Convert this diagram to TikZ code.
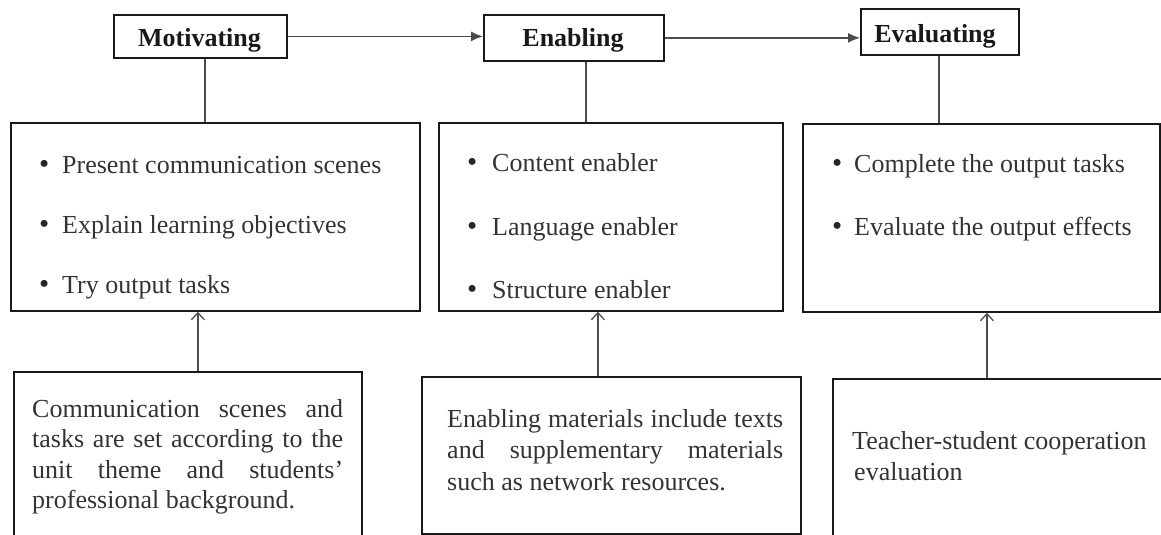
\documentclass[tikz,border=0pt]{standalone}
\usepackage{fontspec}
\setmainfont{Liberation Serif}
\usetikzlibrary{arrows.meta}
\begin{document}
\begin{tikzpicture}[x=1pt,y=-1pt,
  box/.style={draw=black!90, line width=1.8pt, rectangle, inner sep=0pt, anchor=north west},
  title/.style={font=\fontsize{26}{30}\selectfont\bfseries, text=black!90, inner sep=0pt, anchor=base},
  txt/.style={font=\fontsize{26}{30}\selectfont, text=black!80, inner sep=0pt, anchor=base west},
  dot/.style={font=\fontsize{29}{30}\selectfont, text=black!85, inner sep=0pt, anchor=base west},
  conn/.style={draw=black!70, line width=1.3pt},
  flow/.style={conn, -{Latex[length=12pt,width=10pt]}},
  up/.style={conn, -{Straight Barb[length=7pt,width=13pt]}},
]
\useasboundingbox (0,0) rectangle (1161,535);

% title boxes
\node[box, minimum width=173pt, minimum height=43pt] (mot) at (113,14) {};
\node[box, minimum width=180pt, minimum height=46pt] (en) at (483,14) {};
\node[box, minimum width=158pt, minimum height=46pt] (ev) at (860,8) {};
\node[title] (motT) at (199.5,47) {Motivating};
\node[title] (enT) at (573,47) {Enabling};
\node[title] (evT) at (935,42) {Evaluating};

% middle boxes
\node[box, minimum width=409pt, minimum height=188pt] (b1) at (10,122) {};
\node[box, minimum width=344pt, minimum height=188pt] (b2) at (438,122) {};
\node[box, minimum width=357pt, minimum height=188pt] (b3) at (802,123) {};

% bottom boxes
\node[box, minimum width=348pt, minimum height=180pt] (b4) at (13,371) {};
\node[box, minimum width=379pt, minimum height=157pt] (b5) at (421,376) {};
\node[box, minimum width=340pt, minimum height=170pt] (b6) at (832,378) {};

% flow arrows
\draw[flow] (mot.east) -- (mot.east -| en.west);
\draw[flow] (en.east) -- (en.east -| ev.west);

% vertical connectors
\coordinate (c1) at ([xshift=4.5pt]mot.south);
\coordinate (c2) at ([xshift=12pt]en.south);
\coordinate (c3) at ([xshift=-1pt]ev.south);
\draw[conn] (c1) -- (c1 |- b1.north);
\draw[conn] (c2) -- (c2 |- b2.north);
\draw[conn] (c3) -- (c3 |- b3.north);

\coordinate (a4) at ([xshift=10pt]b4.north);
\coordinate (a5) at ([xshift=-13.5pt]b5.north);
\coordinate (a6) at ([xshift=-16pt]b6.north);
\draw[up] (a4) -- (a4 |- b1.south);
\draw[up] (a5) -- (a5 |- b2.south);
\draw[up] (a6) -- (a6 |- b3.south);

% box 1 bullets
\node[dot] (p1) at (39,173) {\textbullet};
\node[txt] (q1) at (62,173) {Present communication scenes};
\node[dot] (p2) at (39,233) {\textbullet};
\node[txt] (q2) at (62,233) {Explain learning objectives};
\node[dot] (p3) at (39,293) {\textbullet};
\node[txt] (q3) at (62,293) {Try output tasks};

% box 2 bullets
\node[dot] (p4) at (467,171) {\textbullet};
\node[txt] (q4) at (492,171) {Content enabler};
\node[dot] (p5) at (467,235) {\textbullet};
\node[txt] (q5) at (492,235) {Language enabler};
\node[dot] (p6) at (467,298) {\textbullet};
\node[txt] (q6) at (492,298) {Structure enabler};

% box 3 bullets
\node[dot] (p7) at (832,172) {\textbullet};
\node[txt] (q7) at (854,172) {Complete the output tasks};
\node[dot] (p8) at (832,235) {\textbullet};
\node[txt] (q8) at (854,235) {Evaluate the output effects};

% box 4 text
\node[txt] (r1) at (32,417) {\makebox[311pt][s]{Communication scenes and}};
\node[txt] (r2) at (32,447.5) {\makebox[311pt][s]{tasks are set according to the}};
\node[txt] (r3) at (32,478) {\makebox[311pt][s]{unit theme and students’}};
\node[txt] (r4) at (32,508) {professional background.};

% box 5 text
\node[txt] (s1) at (447,427) {\makebox[336pt][s]{Enabling materials include texts}};
\node[txt] (s2) at (447,458.5) {\makebox[336pt][s]{and supplementary materials}};
\node[txt] (s3) at (447,490) {such as network resources.};

% box 6 text
\node[txt] (u1) at (852,449) {Teacher-student cooperation};
\node[txt] (u2) at (854,480) {evaluation};
\end{tikzpicture}
\end{document}
